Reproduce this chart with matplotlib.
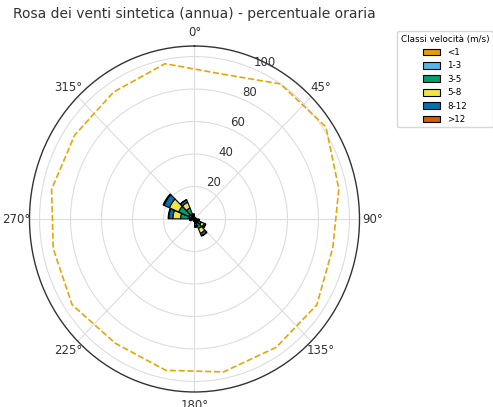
import numpy as np
import matplotlib
matplotlib.use("Agg")
import matplotlib.pyplot as plt
from matplotlib.patches import Patch

# direction sectors (centre of each 22.5 deg bin)
directions = [11.25, 33.75, 56.25, 78.75, 101.25, 123.75, 146.25, 168.75,
              191.25, 213.75, 236.25, 258.75, 281.25, 303.75, 326.25, 348.75]

# percentage of hours per speed class and direction
calm = [0.1, 0.1, 0.1, 0.1, 0.2, 0.3, 0.4, 0.2, 0.1, 0.1, 0.1, 0.2, 0.5, 0.6, 0.4, 0.2]
v1_3 = [0.4, 0.3, 0.3, 0.4, 0.9, 1.8, 2.5, 1.3, 0.5, 0.3, 0.4, 0.9, 3.0, 3.5, 2.6, 0.9]
v3_5 = [0.3, 0.2, 0.2, 0.4, 1.0, 2.7, 3.5, 1.6, 0.5, 0.2, 0.3, 1.0, 5.5, 7.0, 4.4, 1.0]
v5_8 = [0.2, 0.1, 0.1, 0.2, 0.6, 2.0, 3.2, 1.2, 0.3, 0.1, 0.1, 0.6, 5.0, 6.5, 3.8, 0.6]
v8_12 = [0.0, 0.1, 0.1, 0.1, 0.3, 1.0, 1.6, 0.6, 0.1, 0.1, 0.1, 0.3, 2.6, 3.8, 1.6, 0.3]
v12 = [0.0, 0.0, 0.0, 0.0, 0.0, 0.2, 0.3, 0.1, 0.0, 0.0, 0.0, 0.0, 0.4, 0.6, 0.2, 0.0]

# dashed line values per direction
line_vals = [91, 100, 102, 95, 91, 95, 95, 96, 95, 92, 95, 93, 94, 93, 94, 97.5]

class_labels = ["<1", "1-3", "3-5", "5-8", "8-12", ">12"]
colors = ["#E69F00", "#56B4E9", "#009E73", "#F0E442", "#0072B2", "#D55E00"]

fig = plt.figure(figsize=(4.93, 4.07), dpi=100)
ax = fig.add_axes([0.0598, 0.0369, 0.6694, 0.850], projection="polar")
ax.set_aspect("auto")
ax.set_theta_zero_location("N")
ax.set_theta_direction(-1)

theta = np.deg2rad(directions)
width = np.deg2rad(22.5) * 0.95
bottom = np.zeros(len(directions))
for vals, col in zip([calm, v1_3, v3_5, v5_8, v8_12, v12], colors):
    ax.bar(theta, vals, width=width, bottom=bottom, color=col,
           edgecolor="black", linewidth=0.8, zorder=3)
    bottom += np.array(vals)

th_line = np.append(theta, theta[0])
r_line = np.append(line_vals, line_vals[0])
ax.plot(th_line, r_line, linestyle="--", color="#E6A50A", linewidth=1.2, zorder=2)

ax.set_ylim(0, 106.5)
ax.set_yticks([20, 40, 60, 80, 100])
ax.set_rlabel_position(22.5)
ax.set_thetagrids(range(0, 360, 45), [f"{a}°" for a in range(0, 360, 45)])
ax.tick_params(axis="both", labelsize=8.5, colors="#333333")
ax.tick_params(axis="x", pad=-1)
ax.grid(color="#dddddd", linewidth=0.8)
ax.spines["polar"].set_color("#333333")
ax.spines["polar"].set_linewidth(1.0)

fig.text(194.5 / 493, 1 - 14 / 407,
         "Rosa dei venti sintetica (annua) - percentuale oraria",
         fontsize=10, color="#333333", ha="center", va="center")

handles = [Patch(facecolor=c, edgecolor="black", linewidth=0.8) for c in colors]
fig.legend(handles, class_labels, title="Classi velocità (m/s)",
           loc="upper left", bbox_to_anchor=(0.797, 0.934),
           fontsize=6.3, title_fontsize=6.3, frameon=True,
           handlelength=2.0, handleheight=0.8, labelspacing=0.5)

fig.savefig("out.png", dpi=100)
